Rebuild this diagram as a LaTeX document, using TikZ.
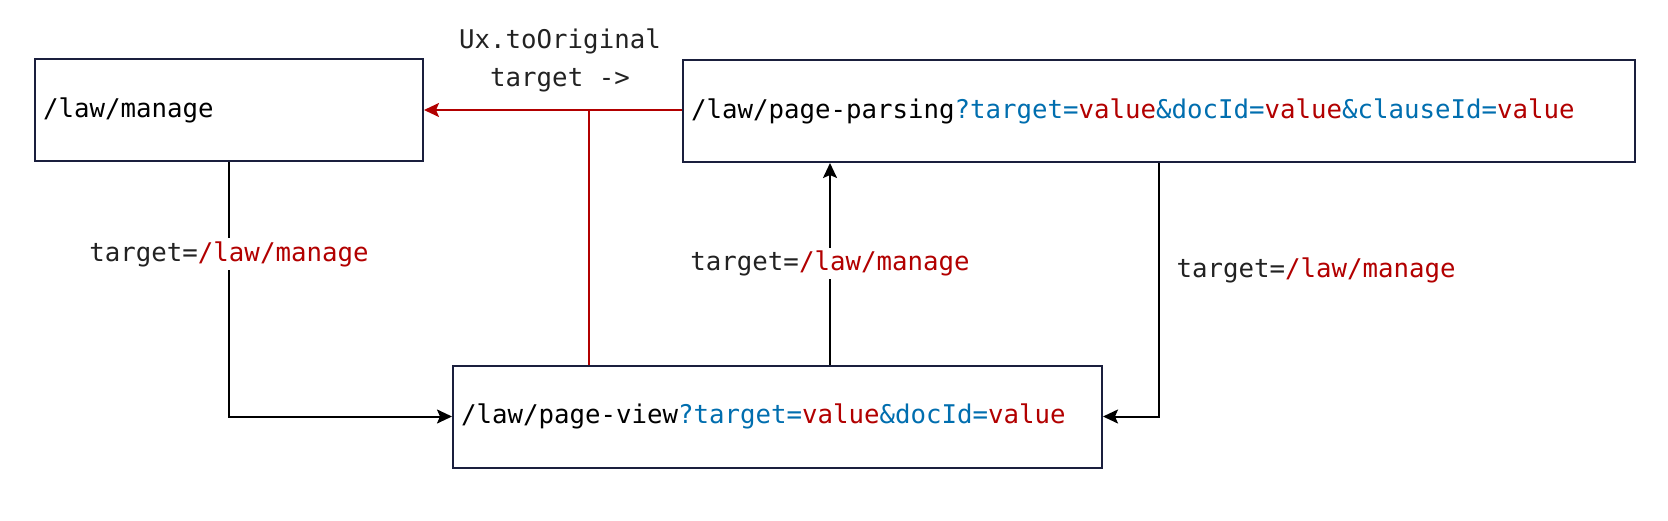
\documentclass[tikz,border=0pt]{standalone}
\usepackage{fontspec}
\setmonofont{DejaVu Sans Mono}
\usetikzlibrary{arrows.meta,calc}
\definecolor{rd}{HTML}{B20000}
\definecolor{bl}{HTML}{006EAF}
\definecolor{nv}{HTML}{1A1F3D}
\definecolor{tx}{HTML}{222222}
\newcommand\mfont{\ttfamily\fontsize{25.75}{38}\selectfont}
\newcommand\R[1]{\textcolor{rd}{#1}}
\newcommand\B[1]{\textcolor{bl}{#1}}
\begin{document}
\begin{tikzpicture}[x=1pt,y=-1pt,
  box/.style={draw=nv,line width=2pt,fill=white,inner xsep=8pt,inner ysep=0pt,
    align=left,minimum height=102pt,font=\mfont,text=black},
  conn/.style={line width=2pt,draw=black},
  tip/.style={-{Stealth[length=15pt,width=14pt,inset=3pt]}},
  lbl/.style={font=\mfont,text=tx,fill=white,inner sep=3pt}]
\useasboundingbox (0,0) rectangle (1668,520);
\node[box,text width=372pt] (A) at (229,110) {/law/manage};
\node[box,text width=936pt] (B) at (1159,111) {/law/page-parsing\B{?target=}\R{value}\B{\&docId=}\R{value}\B{\&clauseId=}\R{value}};
\node[box,text width=633pt] (C) at (777.5,416.5) {/law/page-view\B{?target=}\R{value}\B{\&docId=}\R{value}};
\coordinate (rx) at (589,0);
\coordinate (mx) at (830,0);
\coordinate (ly) at (0,254);
% red arrow
\draw[conn,draw=rd,tip,fill=rd] (B.west |- A.east) -- (A.east);
\draw[conn,draw=rd] (rx |- C.north) -- (rx |- A.east);
\node[font=\mfont,text=tx,align=center] (ux) at (560,60) {Ux.toOriginal\\target ->};
% black connectors
\draw[conn,tip] (A.south) |- (C.west);
\node[lbl] (l1) at (A.south |- ly) {target=\R{/law/manage}};
\draw[conn,tip] (mx |- C.north) -- (mx |- B.south) node[pos=0.5,lbl] (l2) {target=\R{/law/manage}};
\draw[conn,tip] (B.south) |- (C.east);
\node[font=\mfont,text=tx,anchor=west] (l3) at (1173,270) {target=\R{/law/manage}};
\end{tikzpicture}
\end{document}
